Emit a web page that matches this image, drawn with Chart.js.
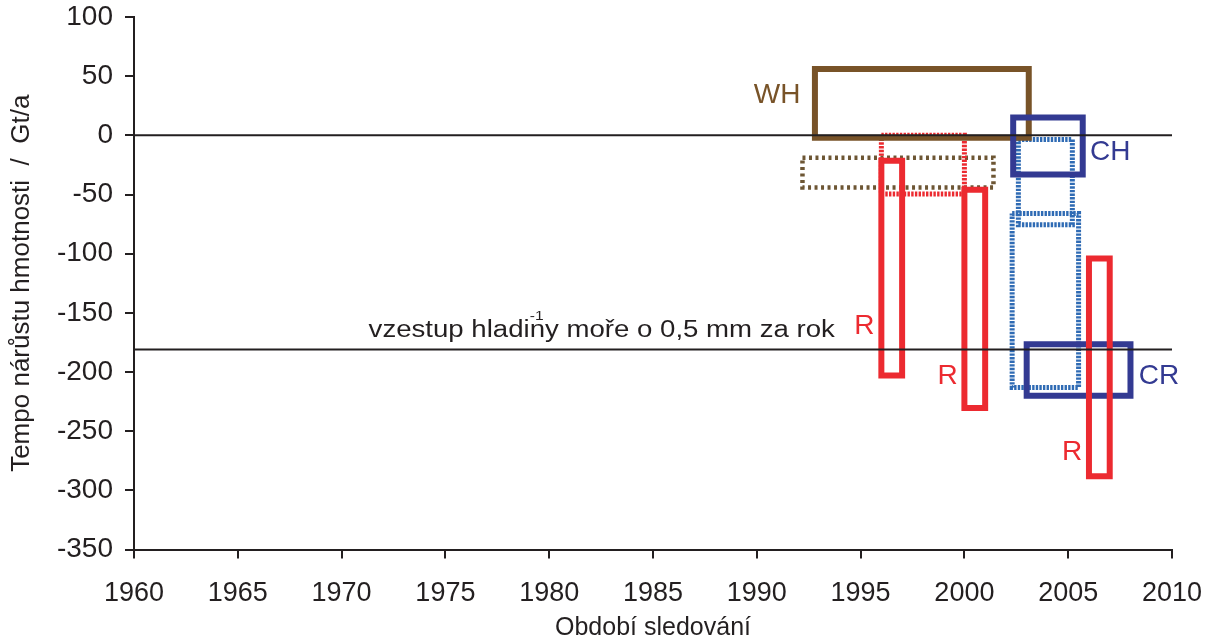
<!DOCTYPE html>
<html>
<head>
<meta charset="utf-8">
<script src="https://cdn.jsdelivr.net/npm/chart.js@4/dist/chart.umd.min.js"></script>
<style>
    html, body { margin: 0; padding: 0; background: #ffffff; }
    canvas { display: block; }
</style>
</head>
<body>
<canvas id="chart" width="1206" height="643"></canvas>
<script>
// Mass balance estimates (Gt/a) as boxes: period of observation x rate range.
// Index 0 is drawn on top in Chart.js.
const boxNames = ['R', 'R', 'R', 'CR', 'CH', 'WH', 'R dotted', 'WH dotted', 'CH dotted', 'CR dotted'];
const boxYearFrom = [2006.0, 2000.0, 1996.0, 2003.0, 2002.35, 1992.8, 1996.0, 1992.2, 2002.6, 2002.3];
const boxYearTo = [2007.0, 2001.0, 1997.0, 2008.0, 2005.7, 2003.1, 2000.0, 2001.4, 2005.2, 2005.5];
const boxHigh = [-104, -46, -21.5, -176.5, 15, 56, 0, -19, -3.5, -66];
const boxLow = [-288, -230.5, -203, -220, -33, -2, -49.5, -44, -75.5, -213];

const refLineValues = [0, -181];
const xTicksFrom = 1960;
const xTicksTo = 2010;
const yTicksFrom = -350;
const yTicksTo = 100;

const labelTexts = ['WH', 'CH', 'R', 'R', 'R', 'CR'];
const labelYears = [1992.1, 2006.05, 1994.7, 1998.7, 2004.7, 2008.4];
const labelValues = [34, -14, -161.5, -204, -268, -204];

const seaText = 'vzestup hladiny moře o 0,5 mm za rok';
const seaTextYear = 1971.3;
const seaTextValue = -170.7;

const BROWN = '#785328';
const NAVY = '#333a92';
const RED = '#ec2a30';
const DARK = '#231f20';

const boxStyles = [
    { color: RED, width: 6, dash: [] },
    { color: RED, width: 6, dash: [] },
    { color: RED, width: 6, dash: [] },
    { color: NAVY, width: 6, dash: [] },
    { color: NAVY, width: 6, dash: [] },
    { color: BROWN, width: 6, dash: [] },
    { color: RED, width: 5, dash: [2.4, 1.3] },
    { color: '#6d5634', width: 4.5, dash: [3, 3.5] },
    { color: '#2f6bb4', width: 5, dash: [2.4, 1.2] },
    { color: '#2f6bb4', width: 5, dash: [2.4, 1.2] }
];
const labelColors = [BROWN, NAVY, RED, RED, RED, NAVY];

function boxOutline(i) {
    return [
        { x: boxYearFrom[i], y: boxHigh[i] },
        { x: boxYearTo[i], y: boxHigh[i] },
        { x: boxYearTo[i], y: boxLow[i] },
        { x: boxYearFrom[i], y: boxLow[i] },
        { x: boxYearFrom[i], y: boxHigh[i] }
    ];
}

const datasets = [];
refLineValues.forEach((v) => {
    datasets.push({
        label: 'ref ' + v,
        data: [{ x: xTicksFrom, y: v }, { x: xTicksTo, y: v }],
        showLine: true,
        borderColor: DARK,
        borderWidth: 2,
        pointRadius: 0
    });
});
boxNames.forEach((name, i) => {
    const st = boxStyles[i];
    datasets.push({
        label: name,
        data: boxOutline(i),
        showLine: true,
        borderColor: st.color,
        borderWidth: st.width,
        borderDash: st.dash,
        borderJoinStyle: 'miter',
        borderCapStyle: st.dash.length ? 'butt' : 'square',
        pointRadius: 0,
        tension: 0
    });
});

const FONT = "'Liberation Sans', Arial, Helvetica, sans-serif";

const labelPlugin = {
    id: 'boxLabels',
    afterDatasetsDraw(chart) {
        const { ctx, scales } = chart;
        ctx.save();
        ctx.textBaseline = 'middle';
        labelTexts.forEach((t, i) => {
            ctx.font = '28px ' + FONT;
            ctx.fillStyle = labelColors[i];
            ctx.textAlign = t === 'WH' ? 'right' : 'left';
            ctx.fillText(t, scales.x.getPixelForValue(labelYears[i]), scales.y.getPixelForValue(labelValues[i]));
        });

        // sea level rise note, slightly wide lettering like the original
        const sx = scales.x.getPixelForValue(seaTextYear);
        const sy = scales.y.getPixelForValue(seaTextValue);
        ctx.fillStyle = DARK;
        ctx.textAlign = 'left';
        ctx.textBaseline = 'alphabetic';
        ctx.translate(sx, sy);
        ctx.scale(1.2, 1);
        ctx.font = '23px ' + FONT;
        ctx.fillText(seaText, 0, 0);
        const pre = ctx.measureText('vzestup hladi').width;
        ctx.font = '13px ' + FONT;
        ctx.fillText('-1', pre, -17);
        ctx.restore();
    }
};

new Chart(document.getElementById('chart'), {
    type: 'scatter',
    data: { datasets },
    options: {
        responsive: false,
        devicePixelRatio: 1,
        animation: false,
        events: [],
        layout: { padding: { top: 17, right: 34, left: 0, bottom: 0 } },
        plugins: {
            legend: { display: false },
            tooltip: { enabled: false }
        },
        scales: {
            x: {
                type: 'linear',
                min: xTicksFrom,
                max: xTicksTo,
                afterFit: (scale) => {
                    scale.height = 93.5;
                    scale.paddingLeft = 0;
                    scale.paddingRight = 0;
                },
                border: { display: true, color: DARK, width: 2 },
                grid: { drawOnChartArea: false, drawTicks: true, tickLength: 9, color: DARK, lineWidth: 2 },
                ticks: {
                    stepSize: 5,
                    color: DARK,
                    padding: 19,
                    maxRotation: 0,
                    font: { family: FONT, size: 27 },
                    callback: (v) => String(v)
                },
                title: {
                    display: true,
                    text: 'Období sledování',
                    color: DARK,
                    font: { family: FONT, size: 25 },
                    padding: { top: 0, bottom: 0 }
                }
            },
            y: {
                type: 'linear',
                min: yTicksFrom,
                max: yTicksTo,
                afterFit: (scale) => {
                    scale.width = 134;
                    scale.paddingTop = 0;
                    scale.paddingBottom = 0;
                },
                border: { display: true, color: DARK, width: 2 },
                grid: { drawOnChartArea: false, drawTicks: true, tickLength: 9, color: DARK, lineWidth: 2 },
                ticks: {
                    stepSize: 50,
                    color: DARK,
                    padding: 12,
                    font: { family: FONT, size: 28 }
                },
                title: {
                    display: true,
                    text: 'Tempo nárůstu hmotnosti  /  Gt/a',
                    color: DARK,
                    font: { family: FONT, size: 26 },
                    padding: { top: 6, bottom: 0 }
                }
            }
        }
    },
    plugins: [labelPlugin]
});
</script>
</body>
</html>
